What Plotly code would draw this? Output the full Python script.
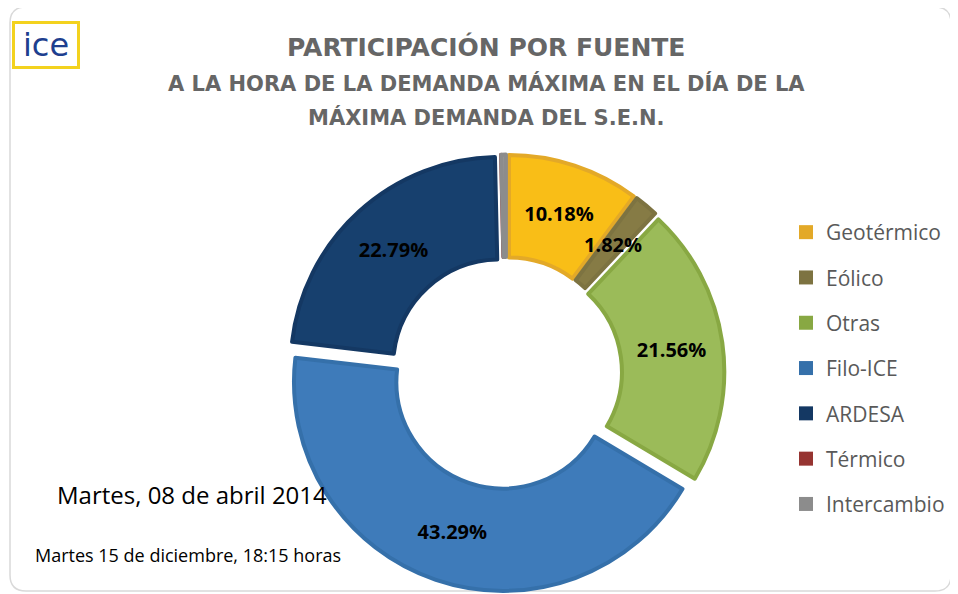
import math
import plotly.graph_objects as go

# ---- data ----
labels = ["Geotérmico", "Eólico", "Otras", "Filo-ICE", "ARDESA", "Térmico", "Intercambio"]
values = [10.18, 1.82, 21.56, 43.29, 22.79, 0.0, 0.36]
fill_colors = ["#F9BE17", "#867B45", "#9BBB59", "#3E7BBA", "#17406E", "#A33B37", "#969696"]
edge_colors = ["#E3A928", "#7D7341", "#88A843", "#3570AA", "#143863", "#963431", "#8C8C8C"]
title_lines = ["PARTICIPACIÓN POR FUENTE",
               "A LA HORA DE LA DEMANDA MÁXIMA EN EL DÍA DE LA",
               "MÁXIMA DEMANDA DEL S.E.N."]
date_main = "Martes, 08 de abril 2014"
date_sub = "Martes 15 de diciembre, 18:15 horas"

# page body has an 8px margin: work in screenshot pixels and convert
OFF = 8
W, H = 958 - OFF, 594 - OFF
def px(x): return (x - OFF) / W
def py(y): return 1 - (y - OFF) / H

pull = 0.045
hole = 0.51
cx, cy, r = 506, 373, 209
half = r * (1 + pull)

total = sum(values)
# slices too thin for plotly's inside-text fitting get a label placed on their bisector
small = [v / total < 0.03 for v in values]
slice_text = [f"{v:.2f}%" if (v >= 1 and not s) else "" for v, s in zip(values, small)]

fig = go.Figure()
fig.add_trace(go.Pie(
    labels=labels, values=values, sort=False, direction="clockwise", rotation=0,
    hole=hole, pull=pull,
    marker=dict(colors=fill_colors, line=dict(color=edge_colors, width=4)),
    text=slice_text, textinfo="text", textposition="inside",
    insidetextorientation="horizontal",
    textfont=dict(family="Open Sans", size=20, color="black", weight="bold"),
    domain=dict(x=[px(cx - half), px(cx + half)], y=[py(cy + half), py(cy - half)]),
    showlegend=False, hoverinfo="label+percent",
))

cum = 0.0
for v, s in zip(values, small):
    if s and v >= 1:
        a = 2 * math.pi * (cum + v / 2) / total
        rad = r * (1 + hole) / 2 + pull * r
        fig.add_annotation(text=f"<b>{v:.2f}%</b>", x=px(cx + rad * math.sin(a)),
                           y=py(cy - rad * math.cos(a)), xref="paper", yref="paper",
                           showarrow=False, xanchor="center", yanchor="middle",
                           font=dict(family="Open Sans", size=20, color="black"))
    cum += v

# legend entries (one group each so they can be spaced like the original)
for lab, col in zip(labels, edge_colors):
    fig.add_trace(go.Scatter(
        x=[None], y=[None], mode="markers", name=lab, legendgroup=lab,
        marker=dict(symbol="square", size=14, color=col),
        showlegend=True, hoverinfo="skip",
    ))

fig.update_layout(
    width=W, height=H, margin=dict(l=0, r=0, t=0, b=0),
    paper_bgcolor="white", plot_bgcolor="white",
    xaxis=dict(visible=False), yaxis=dict(visible=False),
    legend=dict(x=px(786), y=py(212), xanchor="left", yanchor="top",
                font=dict(family="Open Sans", size=21, color="#595959"),
                tracegroupgap=15, itemwidth=30, bgcolor="rgba(0,0,0,0)"),
    uniformtext=dict(minsize=20, mode="show"),
)

# titles
title_y = [47, 84, 117]
title_sizes = [25, 21, 21]
for t, yy, s in zip(title_lines, title_y, title_sizes):
    fig.add_annotation(text=f"<b>{t}</b>", x=px(486), y=py(yy), xref="paper", yref="paper",
                       showarrow=False, xanchor="center", yanchor="middle",
                       font=dict(family="DejaVu Sans", size=s, color="#666666"))

fig.add_annotation(text=date_main, x=px(55), y=py(494), xref="paper", yref="paper",
                   showarrow=False, xanchor="left", yanchor="middle",
                   font=dict(family="Open Sans", size=24, color="black"))
fig.add_annotation(text=date_sub, x=px(33), y=py(555), xref="paper", yref="paper",
                   showarrow=False, xanchor="left", yanchor="middle",
                   font=dict(family="Open Sans", size=18, color="black"))

# logo
fig.add_annotation(text="ice", x=px(46), y=py(45), xref="paper", yref="paper",
                   showarrow=False, xanchor="center", yanchor="middle",
                   width=58, height=38, align="center", valign="middle",
                   font=dict(family="DejaVu Sans", size=32, color="#1E3F8F"),
                   bordercolor="#F3D21E", borderwidth=3, borderpad=2, bgcolor="white")

# frame (rounded rectangle)
x0, y0, x1, y1, rr = 10, 7, 951, 591, 16
path = (f"M {px(x0+rr)},{py(y0)} L {px(x1-rr)},{py(y0)} Q {px(x1)},{py(y0)} {px(x1)},{py(y0+rr)} "
        f"L {px(x1)},{py(y1-rr)} Q {px(x1)},{py(y1)} {px(x1-rr)},{py(y1)} "
        f"L {px(x0+rr)},{py(y1)} Q {px(x0)},{py(y1)} {px(x0)},{py(y1-rr)} "
        f"L {px(x0)},{py(y0+rr)} Q {px(x0)},{py(y0)} {px(x0+rr)},{py(y0)} Z")
fig.add_shape(type="path", path=path, xref="paper", yref="paper",
              line=dict(color="#D9D9D9", width=1.5), layer="below")

fig.write_html("out.html")
